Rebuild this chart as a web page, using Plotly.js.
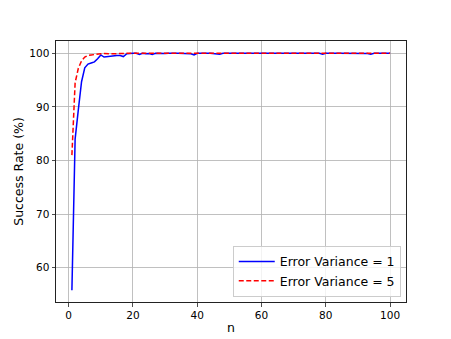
<!DOCTYPE html>
<html>
<head>
<meta charset="utf-8">
<script src="https://cdn.plot.ly/plotly-3.0.1.min.js"></script>
<style>html,body{margin:0;padding:0;background:#fff;}#chart{width:451px;height:339px;}</style>
</head>
<body>
<div id="chart"></div>
<script>
var nValues = [1,2,3,4,5,6,7,8,9,10,11,12,13,14,15,16,17,18,19,20,
  21,22,23,24,25,26,27,28,29,30,31,32,33,34,35,36,37,38,39,40,
  41,42,43,44,45,46,47,48,49,50,51,52,53,54,55,56,57,58,59,60,
  61,62,63,64,65,66,67,68,69,70,71,72,73,74,75,76,77,78,79,80,
  81,82,83,84,85,86,87,88,89,90,91,92,93,94,95,96,97,98,99,100];

var variance1 = [55.8,84.0,89.5,94.7,97.3,98.0,98.2,98.4,99.0,99.7,
  99.3,99.4,99.5,99.5,99.6,99.6,99.4,99.9,100.0,100.0,
  100.0,99.8,100.0,99.9,99.95,99.8,100.0,99.95,100.0,99.95,
  100.0,99.95,100.0,100.0,99.95,100.0,99.95,99.9,99.7,100.0,
  100.0,99.95,100.0,100.0,99.95,100.0,99.85,100.0,99.95,100.0,
  100.0,99.95,100.0,100.0,100.0,99.95,100.0,100.0,99.95,100.0,
  100.0,99.95,99.9,100.0,100.0,99.95,100.0,100.0,99.95,100.0,
  100.0,100.0,99.95,100.0,100.0,100.0,99.95,100.0,99.85,100.0,
  100.0,99.95,100.0,100.0,100.0,99.95,100.0,100.0,100.0,99.95,
  100.0,100.0,99.95,99.85,100.0,100.0,99.95,100.0,100.0,100.0];

var variance5 = [81.0,94.5,97.2,98.6,99.3,99.6,99.7,99.8,99.9,99.9,
  99.95,99.9,99.95,99.9,99.95,100.0,99.95,100.0,100.0,100.0,
  100.0,100.0,99.95,100.0,100.0,100.0,100.0,99.95,100.0,100.0,
  100.0,100.0,100.0,100.0,100.0,99.95,100.0,100.0,100.0,100.0,
  100.0,100.0,100.0,100.0,100.0,100.0,100.0,100.0,100.0,100.0,
  100.0,100.0,100.0,100.0,100.0,100.0,100.0,100.0,100.0,100.0,
  100.0,100.0,100.0,100.0,100.0,100.0,100.0,100.0,100.0,100.0,
  100.0,100.0,100.0,100.0,100.0,100.0,100.0,100.0,100.0,100.0,
  100.0,100.0,100.0,100.0,100.0,100.0,100.0,100.0,100.0,100.0,
  100.0,100.0,100.0,100.0,100.0,100.0,100.0,100.0,100.0,100.0];

var seriesNames = ['Error Variance = 1', 'Error Variance = 5'];
var xTicks = [0,20,40,60,80,100];
var yTicks = [60,70,80,90,100];

var font = "'DejaVu Sans', sans-serif";

var traces = [
  {x: nValues, y: variance1, name: seriesNames[0], mode: 'lines', type: 'scatter',
   line: {color: '#0000ff', width: 1.5}},
  {x: nValues, y: variance5, name: seriesNames[1], mode: 'lines', type: 'scatter',
   line: {color: '#ff0000', width: 1.5, dash: '5px,2.5px'}}
];

var axisCommon = {
  showline: true, mirror: true, linecolor: '#222', linewidth: 1,
  ticks: 'outside', ticklen: 3.5, tickwidth: 0.8, tickcolor: '#222',
  showgrid: true, gridcolor: '#b0b0b0', gridwidth: 0.8,
  zeroline: false, tickfont: {family: font, size: 10.5, color: '#000'}
};

var layout = {
  width: 451, height: 339,
  margin: {l: 56, r: 45, t: 41, b: 37, pad: 0},
  paper_bgcolor: '#fff', plot_bgcolor: '#fff',
  showlegend: true,
  font: {family: font, color: '#000'},
  xaxis: Object.assign({}, axisCommon, {
    range: [-3.95, 104.95], tickvals: xTicks,
    title: {text: 'n', font: {family: font, size: 12.5, color: '#000'}, standoff: 3}
  }),
  yaxis: Object.assign({}, axisCommon, {
    range: [53.6, 102.3], tickvals: yTicks,
    title: {text: 'Success Rate (%)', font: {family: font, size: 12.5, color: '#000'}, standoff: 2}
  }),
  legend: {
    x: 0.985, y: 0.02, xanchor: 'right', yanchor: 'bottom',
    bgcolor: 'rgba(255,255,255,0.8)', bordercolor: '#cccccc', borderwidth: 1,
    font: {family: font, size: 12.5, color: '#000'},
    tracegroupgap: 0, itemwidth: 36
  }
};

Plotly.newPlot('chart', traces, layout, {displayModeBar: false, staticPlot: true});
</script>
</body>
</html>
